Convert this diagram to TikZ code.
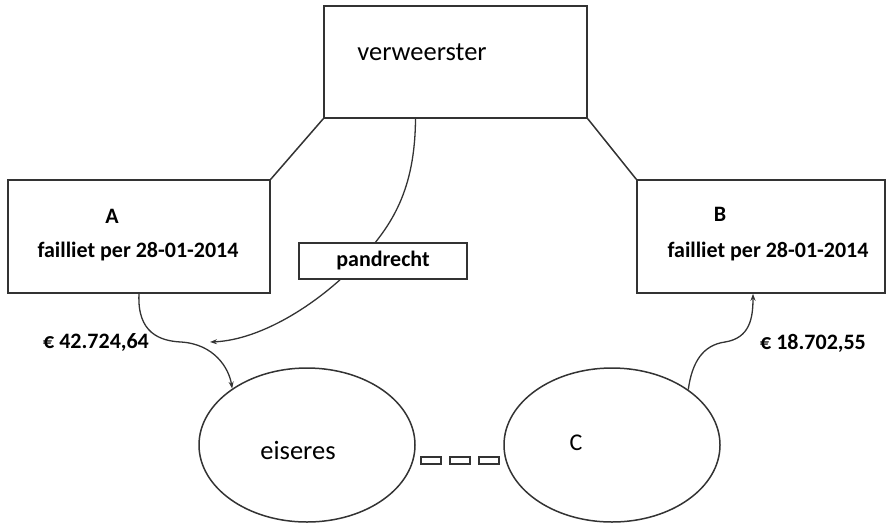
\documentclass[tikz,border=0pt]{standalone}
\usepackage{fontspec}
\setmainfont{Carlito}
\usetikzlibrary{arrows.meta,shapes.geometric}
\begin{document}
\begin{tikzpicture}[x=1pt,y=-1pt,
  line/.style={draw=black!80,line width=1.5pt},
  box/.style={line, fill=white, rectangle, inner sep=0pt},
  oval/.style={line, ellipse, minimum width=216pt, minimum height=154pt, inner sep=0pt},
  link/.style={draw=black!80,line width=1.3pt,-{Stealth[length=7pt,width=5pt]}},
  big/.style={font=\fontsize{26.5}{30}\selectfont},
  lbl/.style={font=\bfseries\fontsize{22}{25}\selectfont},
  dashbox/.style={line, line width=1.2pt, minimum width=20pt, minimum height=7pt, inner sep=0pt}
]
\useasboundingbox (0,0) rectangle (891,523);

% boxes
\node[box, minimum width=263pt, minimum height=112pt] (V) at (455.5,62) {};
\node[box, minimum width=262pt, minimum height=113pt] (A) at (139,236.5) {};
\node[box, minimum width=248pt, minimum height=113pt] (B) at (761,236.5) {};

% parties in ellipses
\node[oval] (E) at (307,445) {};
\node[oval] (C) at (612,445) {};

% texts
\node[big] (tV) at (422,52) {verweerster};
\node[lbl] (tA) at (112,216) {A};
\node[lbl] (tAf) at (138,252) {failliet per 28-01-2014};
\node[lbl] (tB) at (720,214) {B};
\node[lbl] (tBf) at (768,252) {failliet per 28-01-2014};
\node[big] (tE) at (298,450) {eiseres};
\node[big, font=\fontsize{24}{28}\selectfont] (tC) at (576,443) {C};
\node[lbl] (amA) at (96,342) {€ 42.724,64};
\node[lbl] (amB) at (813,343) {€ 18.702,55};

% links between the boxes
\draw[line] (V.south west) -- (A.north east);
\draw[line] (V.south east) -- (B.north west);

% pledge line, passing behind the label box
\coordinate (pEnd) at (210,342);
\draw[link] ([xshift=-40pt]V.south) .. controls (415,190) and (392,225) .. (362,258)
  .. controls (322,302) and (262,340) .. (pEnd);
\node[box, minimum width=168pt, minimum height=36pt, lbl] (P) at (383,261) {pandrecht};

% payments
\draw[link] (A.south) .. controls (137,333) and (160,341) .. (181,342)
  .. controls (214,344) and (229,368) .. (E.143);
\draw[link] (C.36) .. controls (692,362) and (703,345) .. (725,342)
  .. controls (750,338) and (753,318) .. ([xshift=-8pt]B.south);

% link between eiseres and C
\node[dashbox] (d1) at (431,460.5) {};
\node[dashbox] (d2) at (460,460.5) {};
\node[dashbox] (d3) at (489,460.5) {};
\end{tikzpicture}
\end{document}
